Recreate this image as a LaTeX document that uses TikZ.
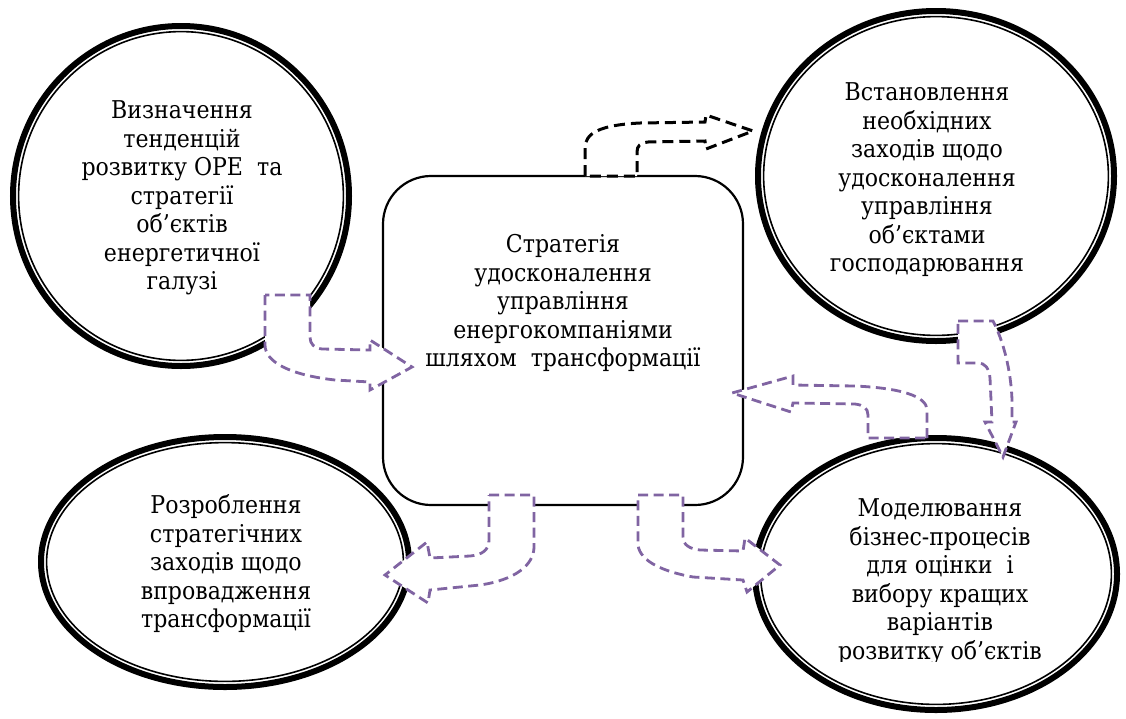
\documentclass[tikz,border=0pt]{standalone}
\usepackage{fontspec}
\setmainfont[FakeStretch=0.9]{DejaVu Serif}
\definecolor{flowpurple}{HTML}{8064A2}
% thick-thin double outline of an ellipse: centre x, centre y, x radius, y radius
\newcommand\ringoutline[4]{%
  \draw[line width=6pt] (#1,#2) ellipse [x radius=#3-3, y radius=#4-3];
  \draw[line width=1.6pt] (#1,#2) ellipse [x radius=#3-8.6, y radius=#4-8.6];}
\begin{document}
\begin{tikzpicture}[x=1pt,y=-1pt,
  label/.style={align=center, inner sep=0pt, font=\fontsize{24.5}{28.5}\selectfont},
  hubbox/.style={draw, line width=2.2pt, rounded corners=48pt, inner sep=0pt},
  blackflow/.style={draw=black, fill=white, line width=3pt, dash pattern=on 11pt off 6pt},
  purpleflow/.style={draw=flowpurple, fill=white, line width=2.8pt, dash pattern=on 10pt off 5.5pt}]
\useasboundingbox (0,0) rectangle (1126,718);

% central rounded box
\node[hubbox, minimum width=360pt, minimum height=329pt] (hub) at (563,340.5) {};

% four surrounding rings
\ringoutline{181}{196}{171}{173}
\ringoutline{936}{176}{181}{168}
\ringoutline{225}{562}{187}{128}
\ringoutline{936}{574}{184}{139}

% bent block arrows
\draw[blackflow] (585,176) -- (585,148) .. controls (585,133) and (600,125) .. (640,123)
  -- (705,122) -- (706,115) -- (753,131) -- (706,149) -- (705,141) -- (648,142)
  .. controls (640,143) and (637,146) .. (637,152) -- (637,176) -- cycle;

\draw[purpleflow] (265,295) -- (265,345) .. controls (265,362) and (290,375) .. (335,380)
  -- (370,382) -- (370,390) -- (412,367) -- (370,340) -- (370,350) -- (322,349)
  .. controls (314,348) and (310,344) .. (310,337) -- (310,295) -- cycle;

\draw[purpleflow] (958,321) -- (993,321) .. controls (1003,340) and (1011,370) .. (1012,400)
  -- (1012,422) -- (1016,422) -- (1003,457) -- (985,422) -- (992,422) -- (990,378)
  .. controls (989,368) and (985,363) .. (978,363) -- (958,363) -- cycle;

\draw[purpleflow] (927,438) -- (927,410) .. controls (927,396) and (900,388) .. (855,386)
  -- (793,385) -- (793,376) -- (732,393) -- (791,412) -- (793,403) -- (855,404)
  .. controls (863,405) and (868,408) .. (868,415) -- (868,438) -- cycle;

\draw[purpleflow] (489,495) -- (534,495) -- (534,547) .. controls (534,565) and (515,580) .. (480,585)
  -- (430,590) -- (428,603) -- (385,575) -- (427,542) -- (430,558) -- (470,556)
  .. controls (482,555) and (489,550) .. (489,540) -- cycle;

\draw[purpleflow] (638,495) -- (683,495) -- (683,537) .. controls (683,545) and (690,549) .. (700,550)
  -- (743,551) -- (745,538) -- (780,565) -- (747,592) -- (743,580) -- (693,577)
  .. controls (665,572) and (640,562) .. (638,545) -- cycle;

% texts
\node[label] (hubtext) at (563,303) {Стратегія\\удосконалення\\управління\\енергокомпаніями\\шляхом\ \ трансформації};
\node[label] (trends) at (182,198) {Визначення\\тенденцій\\розвитку ОРЕ\ \ та\\стратегії\\об’єктів\\енергетичної\\галузі};
\node[label] (measures) at (927,180) {Встановлення\\необхідних\\заходів щодо\\удосконалення\\управління\\об’єктами\\господарювання};
\node[label] (implement) at (226,564) {Розроблення\\стратегічних\\заходів щодо\\впровадження\\трансформації};
\begin{scope}
  \clip (740,440) rectangle (1126,661);
  \node[label] (modelling) at (940,582) {Моделювання\\бізнес-процесів\\для оцінки\ \ і\\вибору кращих\\варіантів\\розвитку об’єктів};
\end{scope}
\end{tikzpicture}
\end{document}
